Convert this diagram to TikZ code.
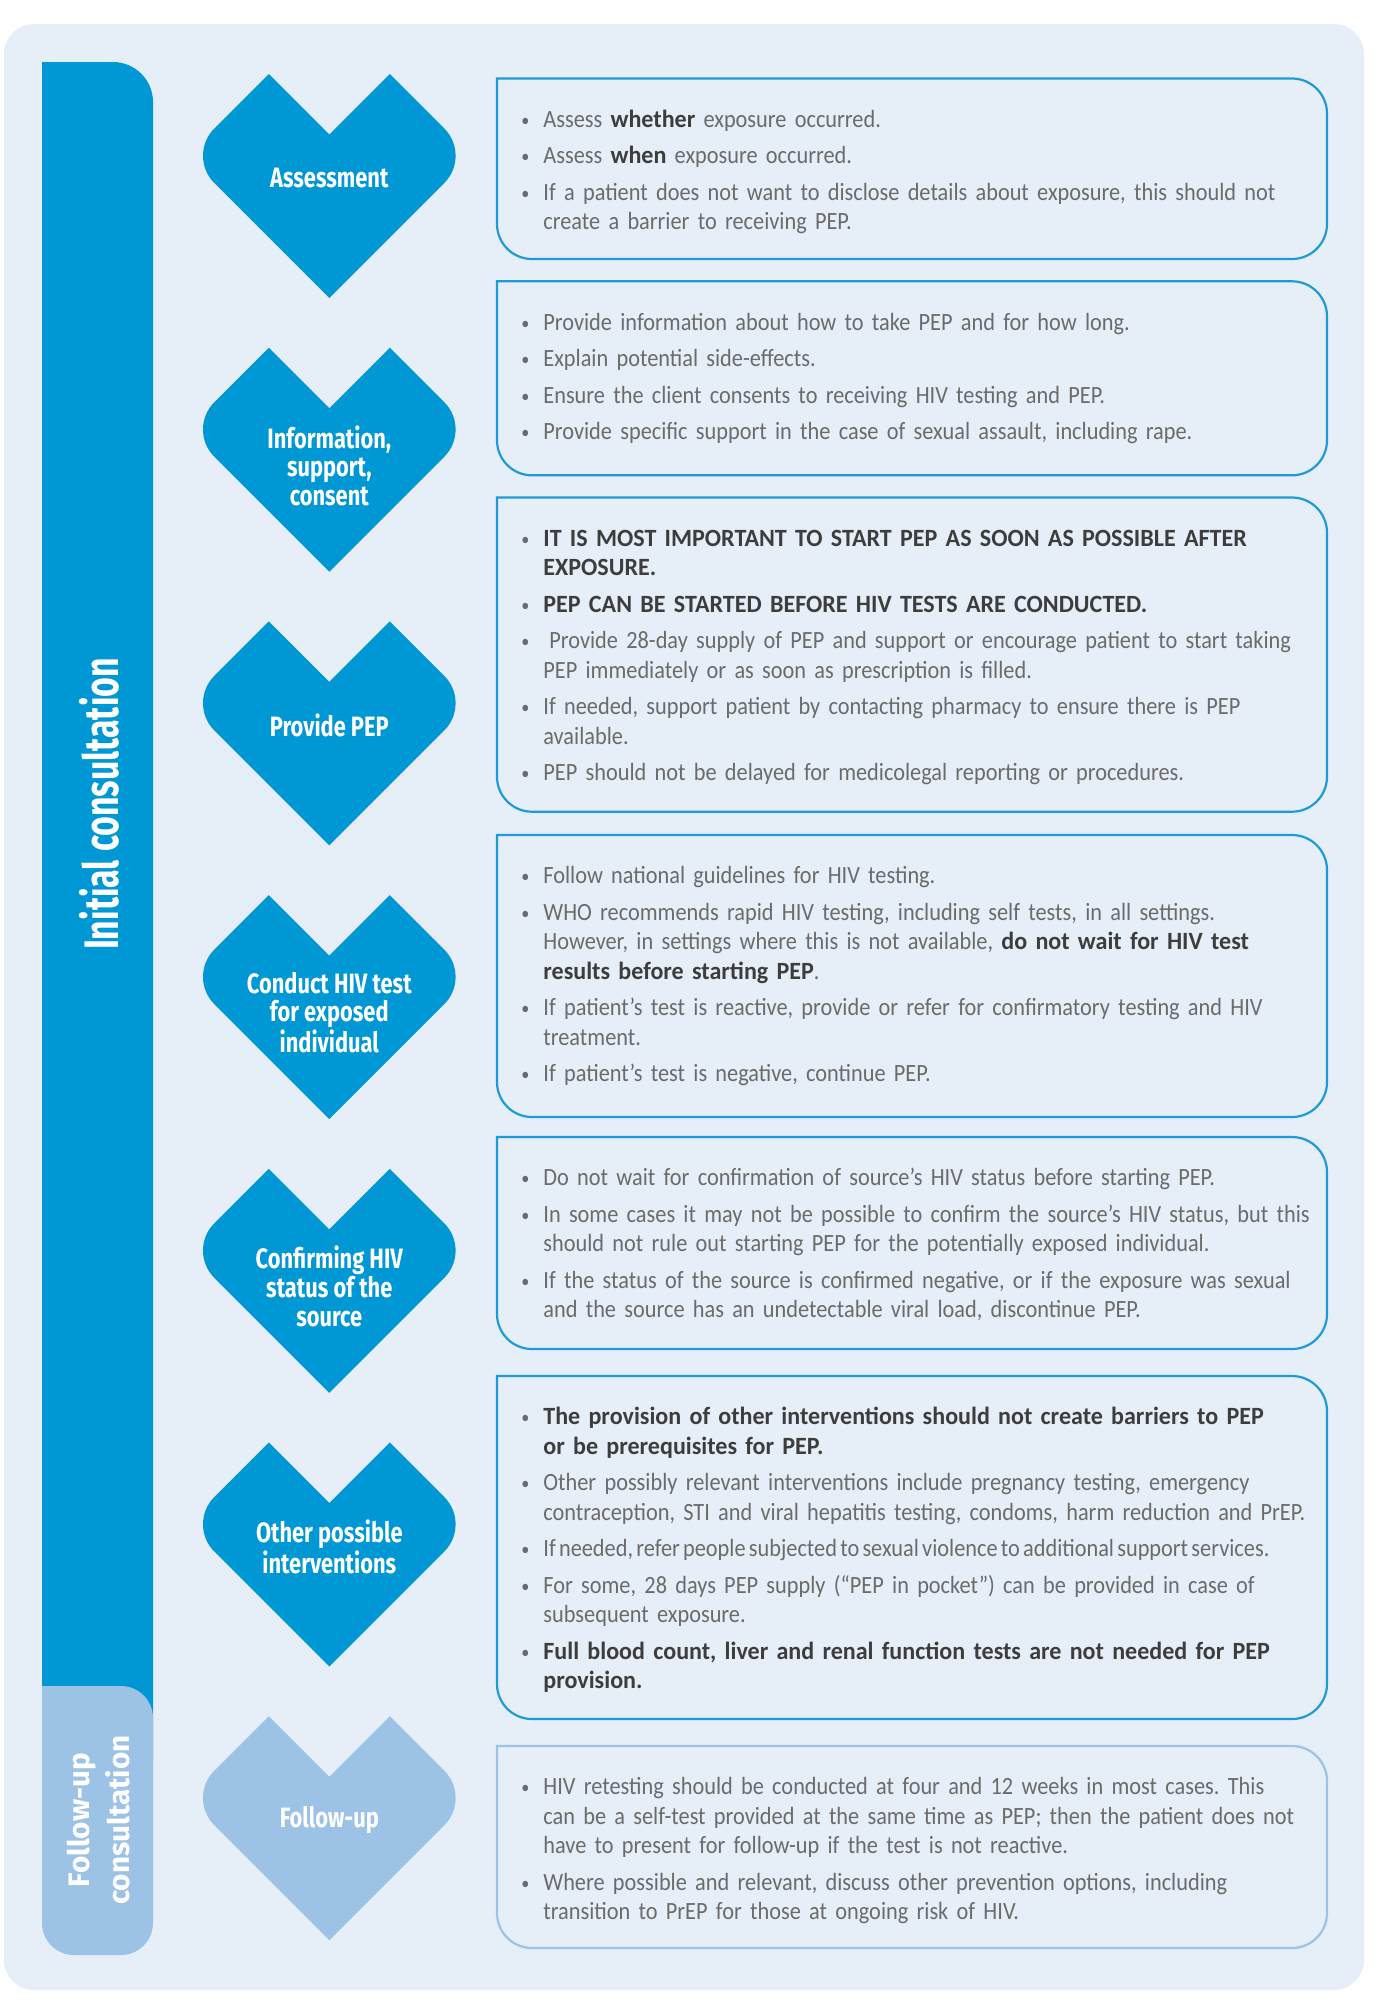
\documentclass[tikz,border=0pt]{standalone}
\usepackage{fontspec}
\setmainfont{Carlito}[UprightFeatures={FakeStretch=0.90}, BoldFeatures={FakeStretch=0.97}]
\newfontfamily\condA{Fira Sans}[FakeStretch=0.78]
\newfontfamily\condB{Fira Sans}[FakeStretch=0.70]
\newfontfamily\firaf{Fira Sans}
\definecolor{bgc}{HTML}{E6EEF8}
\definecolor{dblue}{HTML}{0097D5}
\definecolor{lblue}{HTML}{9CC3E6}
\definecolor{lineblue}{HTML}{1E9AD6}
\definecolor{txtc}{HTML}{6B6B6B}
\definecolor{boldc}{HTML}{3D3D3D}
\newcommand{\bodyfont}{\fontsize{12.4}{14.75}\selectfont\frenchspacing\spaceskip=0.2em plus 0.05em minus 0.03em\hyphenpenalty=10000\exhyphenpenalty=10000}
\newcommand{\bul}{\raisebox{0.4pt}{\fontsize{9}{9}\selectfont •}}
\newcommand{\bfirst}[1]{\hangindent=11pt\hangafter=1\noindent\makebox[11pt][l]{\bul}\rule{0pt}{10pt}#1\par}
\newcommand{\bnext}[1]{\vspace{3.5pt}\bfirst{#1}}
\newcommand{\B}[1]{{\bfseries\color{boldc}#1}}
\newcommand{\heart}[3]{%
  \begin{scope}[shift={(#1,#2)}]
    \fill[#3] (-60.5,0) -- (0,60.5) -- (60.5,0) -- (115.03,54.53)
      arc[start angle=-45,end angle=45,radius=38.5] -- (0,224) -- (-115.03,108.97)
      arc[start angle=135,end angle=225,radius=38.5] -- cycle;
  \end{scope}}
\newcommand{\tbox}[3]{%
  \draw[#3, line width=1.1pt] (497,#1) -- (1292,#1)
    arc[start angle=-90,end angle=0,radius=35] -- (1327,{#2-35})
    arc[start angle=0,end angle=90,radius=35] -- (532,#2)
    arc[start angle=90,end angle=180,radius=35] -- cycle;}
\tikzset{
  hlabel/.style={align=center, text=white, inner sep=0pt,
    font=\condA\bfseries\fontsize{14}{14.35}\selectfont},
  btext/.style={anchor=north west, inner sep=0pt, text width=425pt, align=left,
    font=\bodyfont, text=txtc}
}
\begin{document}
\begin{tikzpicture}[x=0.5pt,y=-0.5pt]
\useasboundingbox (0,0) rectangle (1391,2010);
\fill[white] (0,0) rectangle (1391,2010);
\fill[bgc, rounded corners=15pt] (4,24) rectangle (1364,1990);

% side bars
\fill[dblue] (42,1760) -- (42,62) -- (113,62) arc[start angle=-90,end angle=0,radius=40] -- (153,1760) -- cycle;
\fill[lblue] (42,1686) -- (121,1686) arc[start angle=-90,end angle=0,radius=32] -- (153,1923)
  arc[start angle=0,end angle=90,radius=32] -- (74,1955) arc[start angle=90,end angle=180,radius=32] -- cycle;
\node[rotate=90, text=white, inner sep=0pt, font=\condB\bfseries\fontsize{24.2}{24}\selectfont] (ic) at (99,804) {Initial consultation};
\node[rotate=90, align=center, text=white, inner sep=0pt, font=\firaf\bfseries\fontsize{14.8}{20}\selectfont] (fc) at (99,1820) {Follow-up\\consultation};

% hearts
\heart{329.3}{74}{dblue}
\heart{329.3}{347.7}{dblue}
\heart{329.3}{621.4}{dblue}
\heart{329.3}{895.1}{dblue}
\heart{329.3}{1168.8}{dblue}
\heart{329.3}{1442.5}{dblue}
\heart{329.3}{1716.2}{lblue}
\node[hlabel] (h1) at (329.3,178) {Assessment};
\node[hlabel] (h2) at (329.3,465.7) {Information,\\support,\\consent};
\node[hlabel] (h3) at (329.3,725.4) {Provide PEP};
\node[hlabel] (h4) at (329.3,1012.6) {Conduct HIV test\\for exposed\\individual};
\node[hlabel] (h5) at (329.3,1286.3) {Confirming HIV\\status of the\\source};
\node[hlabel] (h6) at (329.3,1546.5) {Other possible\\interventions};
\node[hlabel] (h7) at (329.3,1820.2) {Follow-up};

% boxes
\tbox{78.5}{259}{lineblue}
\tbox{281.3}{475.3}{lineblue}
\tbox{497.5}{811.7}{lineblue}
\tbox{835}{1117}{lineblue}
\tbox{1137}{1349}{lineblue}
\tbox{1376}{1719}{lineblue}
\tbox{1746}{1948}{lblue}

\node[btext] (t1) at (521,106.8) {%
\bfirst{Assess \B{whether} exposure occurred.}
\bnext{Assess \B{when} exposure occurred.}
\bnext{If a patient does not want to disclose details about exposure, this should not\newline create a barrier to receiving PEP.}};

\node[btext] (t2) at (521,309.6) {%
\bfirst{Provide information about how to take PEP and for how long.}
\bnext{Explain potential side-effects.}
\bnext{Ensure the client consents to receiving HIV testing and PEP.}
\bnext{Provide specific support in the case of sexual assault, including rape.}};

\node[btext] (t3) at (521,525.8) {%
\bfirst{\B{IT IS MOST IMPORTANT TO START PEP AS SOON AS POSSIBLE AFTER\newline EXPOSURE.}}
\bnext{\B{PEP CAN BE STARTED BEFORE HIV TESTS ARE CONDUCTED.}}
\bnext{\hspace{3pt}Provide 28-day supply of PEP and support or encourage patient to start taking\newline PEP immediately or as soon as prescription is filled.}
\bnext{If needed, support patient by contacting pharmacy to ensure there is PEP\newline available.}
\bnext{PEP should not be delayed for medicolegal reporting or procedures.}};

\node[btext] (t4) at (521,863.3) {%
\bfirst{Follow national guidelines for HIV testing.}
\bnext{WHO recommends rapid HIV testing, including self tests, in all settings.\newline However, in settings where this is not available, \B{do not wait for HIV test\newline results before starting PEP}.}
\bnext{If patient’s test is reactive, provide or refer for confirmatory testing and HIV\newline treatment.}
\bnext{If patient’s test is negative, continue PEP.}};

\node[btext] (t5) at (521,1165.3) {%
\bfirst{Do not wait for confirmation of source’s HIV status before starting PEP.}
\bnext{In some cases it may not be possible to confirm the source’s HIV status, but this\newline should not rule out starting PEP for the potentially exposed individual.}
\bnext{If the status of the source is confirmed negative, or if the exposure was sexual\newline and the source has an undetectable viral load, discontinue PEP.}};

\node[btext] (t6) at (521,1404.3) {%
\bfirst{\B{The provision of other interventions should not create barriers to PEP\newline or be prerequisites for PEP.}}
\bnext{Other possibly relevant interventions include pregnancy testing, emergency\newline contraception, STI and viral hepatitis testing, condoms, harm reduction and PrEP.}
\bnext{{\spaceskip=0.13em If needed, refer people subjected to sexual violence to additional support services.}}
\bnext{For some, 28 days PEP supply (“PEP in pocket”) can be provided in case of\newline subsequent exposure.}
\bnext{\B{Full blood count, liver and renal function tests are not needed for PEP\newline provision.}}};

\node[btext] (t7) at (521,1774.3) {%
\bfirst{HIV retesting should be conducted at four and 12 weeks in most cases. This\newline can be a self-test provided at the same time as PEP; then the patient does not\newline have to present for follow-up if the test is not reactive.}
\bnext{Where possible and relevant, discuss other prevention options, including\newline transition to PrEP for those at ongoing risk of HIV.}};
\end{tikzpicture}
\end{document}
